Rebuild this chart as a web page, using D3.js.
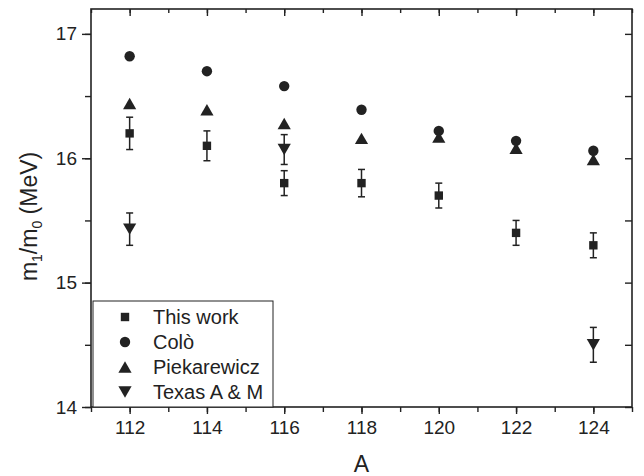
<!DOCTYPE html>
<html>
<head>
<meta charset="utf-8">
<script src="https://cdn.jsdelivr.net/npm/d3@7/dist/d3.min.js"></script>
<style>
  body { margin: 0; background: #fff; }
  svg { display: block; font-family: "Liberation Sans", Arial, sans-serif; }
</style>
</head>
<body>
<div id="chart"></div>
<script>
// mass numbers (x) and the four series
const massA = [112, 114, 116, 118, 120, 122, 124];
const thisWork = [16.20, 16.10, 15.80, 15.80, 15.70, 15.40, 15.30];
const thisWorkErr = [0.13, 0.12, 0.10, 0.11, 0.10, 0.10, 0.10];
const colo = [16.82, 16.70, 16.58, 16.39, 16.22, 16.14, 16.06];
const piekarewicz = [16.44, 16.39, 16.28, 16.16, 16.17, 16.08, 15.99];
const texasA = [112, 116, 124];
const texas = [15.43, 16.07, 14.50];
const texasErr = [0.13, 0.12, 0.14];

const xTicks = [112, 114, 116, 118, 120, 122, 124];
const yTicks = [14, 15, 16, 17];
const legendNames = ["This work", "Colò", "Piekarewicz", "Texas A & M"];
const legendShapes = ["square", "circle", "up", "down"];

const width = 644, height = 476;
const margin = {top: 9, right: 12, bottom: 69, left: 91};
const innerW = width - margin.left - margin.right;
const innerH = height - margin.top - margin.bottom;
const ink = "#222";

const svg = d3.select("#chart").append("svg")
    .attr("width", width)
    .attr("height", height);

const g = svg.append("g")
    .attr("transform", `translate(${margin.left},${margin.top})`);

const x = d3.scaleLinear().domain([111, 125]).range([0, innerW]);
const y = d3.scaleLinear().domain([14, 17.2]).range([innerH, 0]);

const xMinor = d3.range(111, 126, 1);
const yMinor = d3.range(14, 17.01, 0.5);

// marker path, centred on its bounding box
function shapePath(kind) {
    if (kind === "square") return "M-4.2,-4.2H4.2V4.2H-4.2Z";
    if (kind === "circle") return d3.symbol(d3.symbolCircle, Math.PI * 27)();
    if (kind === "up") return "M0,-5.7L6.6,5.7L-6.6,5.7Z";
    return "M0,5.7L6.6,-5.7L-6.6,-5.7Z";
}

// minor ticks (drawn first, no labels)
function styleAxis(sel) {
    sel.select(".domain").remove();
    sel.selectAll("line").attr("stroke", ink).attr("stroke-width", 1.4);
}
g.append("g").attr("transform", `translate(0,${innerH})`)
    .call(d3.axisBottom(x).tickValues(xMinor).tickSize(5).tickFormat(""))
    .call(styleAxis);
g.append("g")
    .call(d3.axisTop(x).tickValues(xMinor).tickSize(-4).tickFormat(""))
    .call(styleAxis);
g.append("g")
    .call(d3.axisLeft(y).tickValues(yMinor).tickSize(6).tickFormat(""))
    .call(styleAxis);
g.append("g").attr("transform", `translate(${innerW},0)`)
    .call(d3.axisRight(y).tickValues(yMinor).tickSize(-7).tickFormat(""))
    .call(styleAxis);

// major ticks with labels
const xAxis = g.append("g").attr("transform", `translate(0,${innerH})`)
    .call(d3.axisBottom(x).tickValues(xTicks).tickSize(7).tickPadding(7).tickFormat(d3.format("d")))
    .call(styleAxis);
g.append("g")
    .call(d3.axisTop(x).tickValues(xTicks).tickSize(-7).tickFormat(""))
    .call(styleAxis);
const yAxis = g.append("g")
    .call(d3.axisLeft(y).tickValues(yTicks).tickSize(9).tickPadding(5).tickFormat(d3.format("d")))
    .call(styleAxis);
xAxis.selectAll("text").style("font-size", "19px").attr("fill", ink);
yAxis.selectAll("text").style("font-size", "19px").attr("fill", ink);

// frame
g.append("rect")
    .attr("width", innerW)
    .attr("height", innerH)
    .attr("fill", "none")
    .attr("stroke", ink)
    .attr("stroke-width", 1.6);

// axis titles
svg.append("text")
    .attr("x", margin.left + innerW / 2)
    .attr("y", 472)
    .attr("text-anchor", "middle")
    .style("font-size", "23px")
    .attr("fill", ink)
    .text("A");

const yTitle = svg.append("text")
    .attr("transform", `translate(37,${margin.top + y(15.5) - 4}) rotate(-90)`)
    .attr("text-anchor", "middle")
    .style("font-size", "23px")
    .attr("fill", ink);
yTitle.append("tspan").text("m");
yTitle.append("tspan").attr("dy", 5).style("font-size", "14px").text("1");
yTitle.append("tspan").attr("dy", -5).text("/m");
yTitle.append("tspan").attr("dy", 5).style("font-size", "14px").text("0");
yTitle.append("tspan").attr("dy", -5).text(" (MeV)");

// error bars
function errorBars(xs, vals, errs) {
    const bars = g.append("g")
        .attr("stroke", ink)
        .attr("stroke-width", 1.5);
    xs.forEach((a, i) => {
        const cx = x(a), y0 = y(vals[i] - errs[i]), y1 = y(vals[i] + errs[i]);
        bars.append("line").attr("x1", cx).attr("x2", cx).attr("y1", y0).attr("y2", y1);
        bars.append("line").attr("x1", cx - 3.5).attr("x2", cx + 3.5).attr("y1", y0).attr("y2", y0);
        bars.append("line").attr("x1", cx - 3.5).attr("x2", cx + 3.5).attr("y1", y1).attr("y2", y1);
    });
}
errorBars(massA, thisWork, thisWorkErr);
errorBars(texasA, texas, texasErr);

function markers(xs, vals, kind) {
    g.append("g").selectAll("path")
        .data(vals)
        .enter()
        .append("path")
        .attr("d", shapePath(kind))
        .attr("transform", (d, i) => `translate(${x(xs[i])},${y(d)})`)
        .attr("fill", ink);
}
markers(massA, colo, "circle");
markers(massA, piekarewicz, "up");
markers(massA, thisWork, "square");
markers(texasA, texas, "down");

// legend
const legend = g.append("g")
    .attr("transform", `translate(2,${y(14) - 106})`);
legend.append("rect")
    .attr("width", 180)
    .attr("height", 106)
    .attr("fill", "#fff")
    .attr("stroke", ink)
    .attr("stroke-width", 1);
legendNames.forEach((name, i) => {
    legend.append("path")
        .attr("d", shapePath(legendShapes[i]))
        .attr("transform", `translate(32,${16 + i * 25})`)
        .attr("fill", ink);
    legend.append("text")
        .attr("x", 60)
        .attr("y", 16 + i * 25 + 7)
        .style("font-size", "20px")
        .attr("fill", ink)
        .text(name);
});
</script>
</body>
</html>
